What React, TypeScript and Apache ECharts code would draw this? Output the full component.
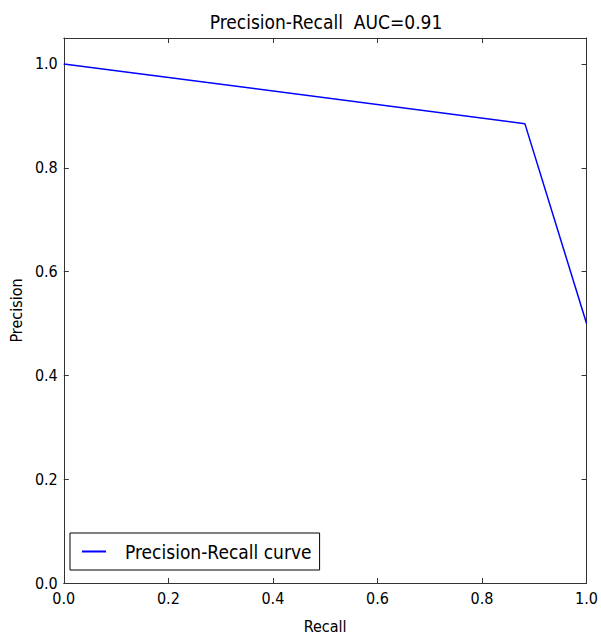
import React, { useEffect, useRef } from "react";
import * as echarts from "echarts";

const recall = [0.0, 0.882, 1.0];
const precision = [1.0, 0.885, 0.5];
const xTicks = [0, 0.2, 0.4, 0.6, 0.8, 1.0];
const yTicks = [0, 0.2, 0.4, 0.6, 0.8, 1.0];
const titleText = "Precision-Recall  AUC=0.91";
const seriesName = "Precision-Recall curve";

const FONT = "'DejaVu Sans Condensed', 'Liberation Sans Narrow', 'DejaVu Sans', sans-serif";
const AX = "#333";

export default function App() {
  const ref = useRef<HTMLDivElement>(null);
  useEffect(() => {
    if (!ref.current) return;
    const chart = echarts.init(ref.current, undefined, { renderer: "svg", width: 601, height: 639 });
    const data = recall.map((r, i) => [r, precision[i]]);
    const baseAxis = {
      type: "value" as const,
      axisLine: { show: true, onZero: false, lineStyle: { color: AX, width: 1 } },
      axisTick: { show: true, inside: true, length: 5, lineStyle: { color: AX } },
      splitLine: { show: false },
    };
    chart.setOption({
      animation: false,
      backgroundColor: "#fff",
      title: {
        text: titleText,
        top: 12,
        padding: 0,
        left: 326,
        textAlign: "center",
        textStyle: { fontFamily: FONT, fontSize: 19, fontWeight: "normal", color: "#000" },
      },
      grid: { left: 62, width: 528, top: 38, height: 545, containLabel: false },
      legend: {
        left: 70,
        top: 533,
        orient: "vertical",
        padding: [9, 8, 9, 12],
        borderColor: "#000",
        borderWidth: 1,
        borderRadius: 0,
        itemWidth: 24,
        itemHeight: 2,
        icon: "rect",
        textStyle: { fontFamily: FONT, fontSize: 19, color: "#000", padding: [0, 0, 0, 14] },
        data: [{ name: seriesName, itemStyle: { color: "#0000ff" } }],
      },
      xAxis: [
        {
          ...baseAxis,
          min: 0,
          max: 1,
          interval: 0.2,
          position: "bottom",
          name: "Recall",
          nameLocation: "middle",
          nameGap: 35,
          nameTextStyle: { fontFamily: FONT, fontSize: 16, color: "#000" },
          axisLabel: {
            fontFamily: FONT,
            fontSize: 16,
            color: "#000",
            margin: 7,
            customValues: xTicks,
            formatter: (v: number) => v.toFixed(1),
          },
          axisTick: { ...baseAxis.axisTick, customValues: xTicks },
        },
        {
          ...baseAxis,
          min: 0,
          max: 1,
          interval: 0.2,
          position: "top",
          axisLabel: { show: false },
        },
      ],
      yAxis: [
        {
          ...baseAxis,
          min: 0,
          max: 1.05,
          interval: 0.2,
          position: "left",
          name: "Precision",
          nameLocation: "middle",
          nameRotate: 90,
          nameGap: 31,
          nameTextStyle: { fontFamily: FONT, fontSize: 16, color: "#000" },
          axisLabel: {
            fontFamily: FONT,
            fontSize: 16,
            color: "#000",
            margin: 6,
            customValues: yTicks,
            formatter: (v: number) => v.toFixed(1),
          },
          axisTick: { ...baseAxis.axisTick, customValues: yTicks },
        },
        {
          ...baseAxis,
          min: 0,
          max: 1.05,
          interval: 0.2,
          position: "right",
          axisLabel: { show: false },
          axisTick: { ...baseAxis.axisTick, customValues: yTicks },
        },
      ],
      series: [
        {
          name: seriesName,
          type: "line",
          data,
          symbol: "none",
          lineStyle: { color: "#0000ff", width: 1.5 },
          itemStyle: { color: "#0000ff" },
          xAxisIndex: 0,
          yAxisIndex: 0,
        },
      ],
    });
    return () => chart.dispose();
  }, []);
  return (
    <div
      ref={ref}
      style={{ position: "fixed", left: 0, top: 0, width: 601, height: 639 }}
    />
  );
}
